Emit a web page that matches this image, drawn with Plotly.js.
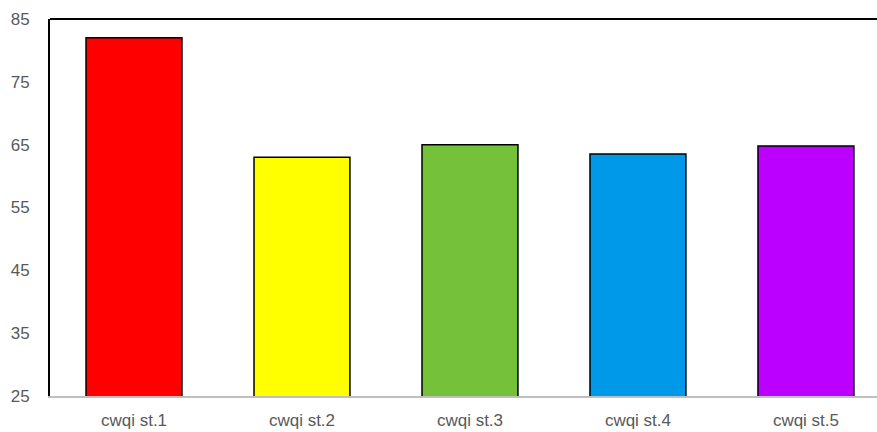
<!DOCTYPE html>
<html>
<head>
<meta charset="utf-8">
<script src="https://cdn.plot.ly/plotly-3.0.1.min.js"></script>
<style>html,body{margin:0;padding:0;background:#fff;}#chart{width:877px;height:432px;}</style>
</head>
<body>
<div id="chart"></div>
<script>
const categories = ["cwqi st.1", "cwqi st.2", "cwqi st.3", "cwqi st.4", "cwqi st.5"];
const values = [82, 63, 65, 63.5, 64.8];
const barColors = ["#ff0000", "#ffff00", "#76c13a", "#0099e9", "#bb00ff"];
const yTicks = [25, 35, 45, 55, 65, 75, 85];

Plotly.newPlot("chart", [{
  type: "bar",
  x: categories,
  y: values,
  width: 0.571,
  marker: {color: barColors, line: {color: "#000000", width: 1.5}},
  hoverinfo: "skip"
}], {
  width: 877, height: 432,
  margin: {l: 50, r: 0, t: 19, b: 36, pad: 0},
  paper_bgcolor: "#ffffff", plot_bgcolor: "#ffffff",
  showlegend: false,
  font: {family: "Liberation Sans, Arial, sans-serif", size: 17, color: "#595959"},
  xaxis: {
    range: [-0.5, 4.423],
    showgrid: false, zeroline: false,
    showline: true, linecolor: "#bfbfbf", linewidth: 1.5,
    ticks: "", ticklabelstandoff: 8,
    tickfont: {size: 17, color: "#595959"}
  },
  yaxis: {
    range: [25, 85],
    tickvals: yTicks,
    showgrid: false, zeroline: false,
    showline: true, linecolor: "#000000", linewidth: 2,
    ticks: "", ticklabelstandoff: 15,
    tickfont: {size: 17, color: "#595959"}
  },
  shapes: [{
    type: "line", xref: "paper", yref: "paper",
    x0: 0, x1: 1, y0: 1, y1: 1,
    line: {color: "#000000", width: 2}
  }]
}, {displayModeBar: false, staticPlot: true});
</script>
</body>
</html>
